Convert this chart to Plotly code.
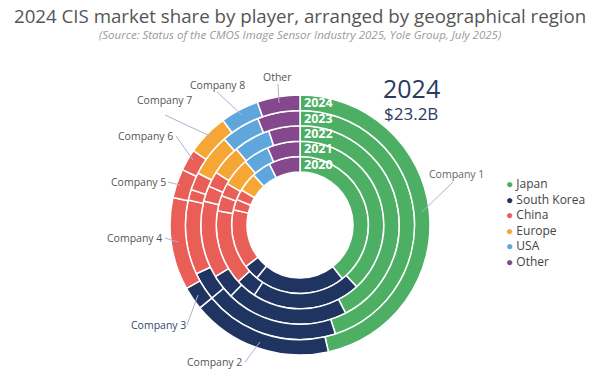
import plotly.graph_objects as go

# ---------------- data ----------------
years = ["2020", "2021", "2022", "2023", "2024"]
companies = ["Company 1", "Company 2", "Company 3", "Company 4", "Company 5",
             "Company 6", "Company 7", "Company 8", "Other"]
company_region = ["Japan", "South Korea", "South Korea", "China", "China",
                  "China", "Europe", "USA", "Other"]
share_2020 = [39.4, 21.5, 3.7, 14.0, 2.5, 2.5, 4.5, 4.5, 7.4]
share_2021 = [38.2, 21.0, 4.0, 14.5, 3.0, 2.5, 5.5, 5.0, 6.3]
share_2022 = [42.4, 19.9, 4.0, 12.6, 2.5, 2.5, 5.0, 6.0, 5.1]
share_2023 = [45.0, 19.0, 4.0, 10.5, 1.5, 2.5, 6.0, 5.5, 6.0]
share_2024 = [46.5, 17.5, 2.9, 11.5, 3.6, 2.7, 5.2, 4.8, 5.3]
shares = [share_2020, share_2021, share_2022, share_2023, share_2024]
legend_regions = ["Japan", "South Korea", "China", "Europe", "USA", "Other"]
market_year = "2024"
market_size = "$23.2B"

# ---------------- style ----------------
region_colors = {
    "Japan": "#4CAF64",
    "South Korea": "#1F3460",
    "China": "#EA5E58",
    "Europe": "#F5A634",
    "USA": "#5EA6DC",
    "Other": "#86488C",
}
W, H = 600, 375
OFF = 8                    # page body margin offset
CX, CY = 300, 225          # donut centre in screen pixels (from top-left)
R_HOLE, RING_W = 53, 15.4
FONT = "Open Sans"


def px(x):
    return (x - OFF) / W


def py(y):
    return (H - (y - OFF)) / H


fig = go.Figure()
for k, (yr, vals) in enumerate(zip(years, shares)):
    r_in = R_HOLE + RING_W * k
    r_out = r_in + RING_W
    fig.add_trace(go.Pie(
        labels=companies, values=vals, sort=False, direction="clockwise",
        rotation=0, hole=r_in / r_out,
        domain=dict(x=[px(CX - r_out), px(CX + r_out)],
                    y=[py(CY + r_out), py(CY - r_out)]),
        marker=dict(colors=[region_colors[r] for r in company_region],
                    line=dict(color="white", width=1.5)),
        textinfo="none", showlegend=False, name=yr,
        hovertemplate=yr + " %{label}: %{value}%<extra></extra>",
    ))

annotations = []
# year labels inside rings
for k, yr in enumerate(years):
    r_mid = R_HOLE + RING_W * (k + 0.5)
    annotations.append(dict(
        x=px(302), y=py(CY - r_mid), xref="paper", yref="paper",
        text="<b>" + yr + "</b>", showarrow=False, xanchor="left", yanchor="middle",
        font=dict(family=FONT, size=12.5, color="white")))

# company labels with leader lines: (text x, text y, anchor, line start, line end, colour)
label_pos = {
    "Company 1": (427, 174, "left", (453, 182), (422, 212), "#666"),
    "Company 2": (214, 362, "center", (245, 362), (260, 342), "#555"),
    "Company 3": (158, 325, "center", (187, 325), (198, 295), "#34466f"),
    "Company 4": (134, 238, "center", (165, 238), (178, 242), "#555"),
    "Company 5": (138, 182, "center", (168, 182), (180, 185), "#555"),
    "Company 6": (145, 136, "center", (176, 136), (193, 160), "#555"),
    "Company 7": (164, 100, "center", (165, 115), (212, 137), "#555"),
    "Company 8": (217, 85, "center", (217, 92), (242, 115), "#555"),
    "Other": (277, 77, "center", (278, 84), (279, 103), "#555"),
}
shapes = []
for name in companies:
    tx, ty, anc, p0, p1, col = label_pos[name]
    annotations.append(dict(
        x=px(tx), y=py(ty), xref="paper", yref="paper", text=name,
        showarrow=False, xanchor=anc, yanchor="middle",
        font=dict(family=FONT, size=10.5, color=col)))
    shapes.append(dict(type="line", xref="paper", yref="paper",
                       x0=px(p0[0]), y0=py(p0[1]), x1=px(p1[0]), y1=py(p1[1]),
                       line=dict(color="#A9B4D0", width=1)))

# big year + market size
annotations.append(dict(x=px(411), y=py(88), xref="paper", yref="paper",
                        text=market_year, showarrow=False, xanchor="center", yanchor="middle",
                        font=dict(family=FONT, size=25, color="#2B3A63")))
annotations.append(dict(x=px(411), y=py(113), xref="paper", yref="paper",
                        text=market_size, showarrow=False, xanchor="center", yanchor="middle",
                        font=dict(family=FONT, size=17, color="#2B3A63")))

# region legend
legend_text = "<br>".join(
    "<span style='color:%s'>\u25CF</span> %s" % (region_colors[r], r) for r in legend_regions)
annotations.append(dict(x=px(504), y=py(173), xref="paper", yref="paper",
                        text=legend_text, showarrow=False, xanchor="left", yanchor="top",
                        align="left", font=dict(family=FONT, size=12, color="#444")))

# title + source
annotations.append(dict(x=px(300), y=py(15), xref="paper", yref="paper",
                        text="2024 CIS market share by player, arranged by geographical region",
                        showarrow=False, xanchor="center", yanchor="middle",
                        font=dict(family=FONT, size=18.7, color="#555")))
annotations.append(dict(x=px(300), y=py(34), xref="paper", yref="paper",
                        text="<i>(Source: Status of the CMOS Image Sensor Industry 2025, Yole Group, July 2025)</i>",
                        showarrow=False, xanchor="center", yanchor="middle",
                        font=dict(family=FONT, size=11.5, color="#9A9A9A")))

fig.update_layout(
    width=W, height=H, margin=dict(l=0, r=0, t=0, b=0),
    paper_bgcolor="white", plot_bgcolor="white",
    annotations=annotations, shapes=shapes, showlegend=False,
)
fig.write_html("out.html")
